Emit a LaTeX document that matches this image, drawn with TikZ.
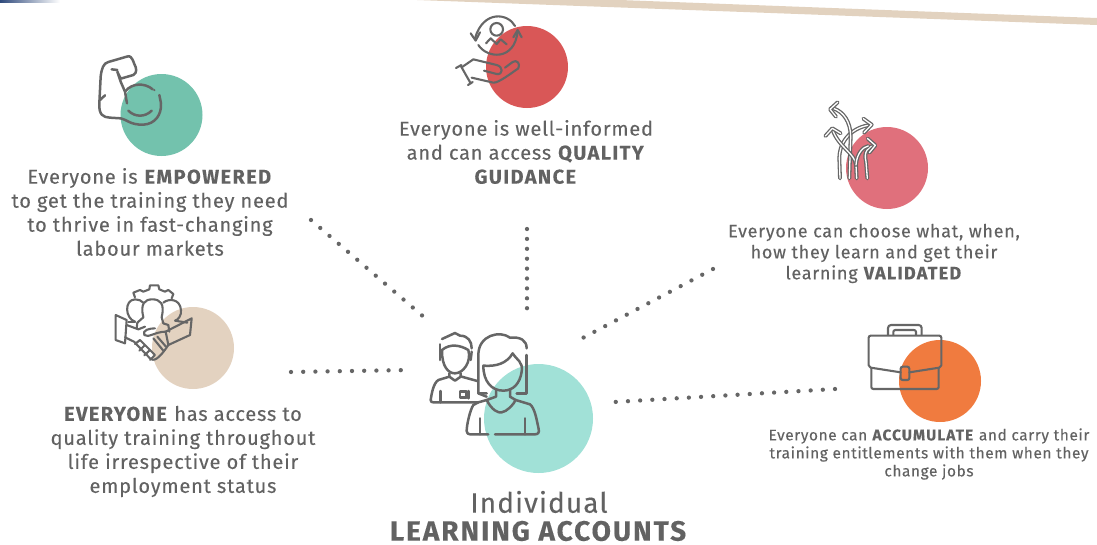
\documentclass[tikz,border=0pt]{standalone}
\usepackage{fontspec}
\setmainfont[LetterSpace=4,FakeBold=0.2]{Fira Sans}
\definecolor{txtgrey}{HTML}{626262}
\definecolor{icongrey}{HTML}{666666}
\definecolor{bandbeige}{HTML}{E2D2BF}
\definecolor{empgreen}{HTML}{73C2AD}
\definecolor{guidered}{HTML}{D95757}
\definecolor{valpink}{HTML}{E0707C}
\definecolor{evebeige}{HTML}{E3D2C0}
\definecolor{learnteal}{HTML}{A1E1D7}
\definecolor{accorange}{HTML}{F07B3F}
\definecolor{bandblue}{HTML}{2F4A7C}
\newcommand{\capsword}[1]{\textbf{\addfontfeature{LetterSpace=7}#1}}
\tikzset{
  blurb/.style={text=txtgrey,align=center,font=\fontsize{20}{24}\selectfont,inner sep=0pt},
  dots/.style={icongrey,line width=4.3pt,line cap=round,dash pattern=on 0pt off 12.2pt},
  icon/.style={icongrey,line width=2.1pt,line cap=round,line join=round},
  iconthick/.style={icongrey,line width=2.5pt,line cap=round,line join=round},
  zoomed/.style={x=0.33333pt,y=-0.33333pt}
}
\begin{document}
\begin{tikzpicture}[x=1pt,y=-1pt]
  \useasboundingbox (0,0) rectangle (1097,544);
  \fill[left color=bandblue,right color=white] (0,0) rectangle (60,2);
  \fill[bandbeige] (417,0) -- (620,0) -- (1097,18) -- (1097,25) -- cycle;

  \fill[empgreen] (161.5,115) circle (41);
  \fill[guidered] (527,67) circle (41);
  \fill[valpink] (887,168) circle (41);
  \fill[evebeige] (193,348) circle (41);
  \fill[learnteal] (538.5,418.5) circle (54.5);
  \fill[accorange] (940,381) circle (41);

  \node[blurb] (empowered) at (150,212) {Everyone is \capsword{EMPOWERED}\\to get the training they need\\to thrive in fast-changing\\labour markets};
  \node[blurb] (guidance) at (526,152) {Everyone is well-informed\\and can access \capsword{QUALITY}\\\capsword{GUIDANCE}};
  \node[blurb,font=\fontsize{18}{21}\selectfont] (validated) at (874,253.5) {Everyone can choose what, when,\\how they learn and get their\\learning \capsword{VALIDATED}};
  \node[blurb] (everyone) at (183,451.5) {\capsword{EVERYONE} has access to\\quality training throughout\\life irrespective of their\\employment status};
  \node[blurb,font=\fontsize{15.4}{18}\selectfont] (accumulate) at (929,454) {Everyone can \capsword{ACCUMULATE} and carry their\\training entitlements with them when they\\change jobs};
  \node[blurb,font=\fontsize{28}{28}\selectfont] (accounts) at (539,516) {Individual\\\capsword{LEARNING ACCOUNTS}};

  \coordinate (empEnd) at (311,220);
  \coordinate (empHub) at (425,318);
  \coordinate (guideEnd) at (527,229);
  \coordinate (guideHub) at (527,309);
  \coordinate (valEnd) at (713,269);
  \coordinate (valHub) at (577,341);
  \coordinate (eveEnd) at (291,372);
  \coordinate (eveHub) at (409,370);
  \coordinate (accEnd) at (835,389);
  \coordinate (accHub) at (614,402);
  \draw[dots] (empEnd) -- (empHub);
  \draw[dots,dash pattern=on 0pt off 9.9pt] (guideEnd) -- (guideHub);
  \draw[dots] (valEnd) -- (valHub);
  \draw[dots] (eveEnd) -- (eveHub);
  \draw[dots] (accEnd) -- (accHub);

  \begin{scope}[shift={(80,40)},zoomed]
    \draw[iconthick] (112,90) -- (95,88);
    \draw[iconthick] (160,105) -- (122,116) -- (112,95) -- (122,125) -- (135,155) -- (141,190);
    \draw[iconthick] (160,105) .. controls (172,98) and (170,85) .. (163,72) .. controls (155,50) and (150,46) .. (140,50) -- (85,66) .. controls (70,70) and (65,85) .. (62,110) -- (58,190) .. controls (56,225) and (70,232) .. (90,233) -- (122,235) .. controls (140,238) and (150,255) .. (190,254) .. controls (225,252) and (245,225) .. (243,190) -- (238,165);
    \draw[iconthick] (135,155) .. controls (155,128) and (195,128) .. (218,148);
    \fill[icongrey] (223,150) circle (3.5);
    \draw[iconthick] (145,212) .. controls (165,232) and (195,232) .. (215,212);
    \draw[iconthick] (60,180) -- (75,166);
  \end{scope}

  \begin{scope}[shift={(440,0)},zoomed]
    \draw[icon] (225,78) .. controls (205,40) and (130,28) .. (105,115);
    \draw[icon] (92,100) -- (107,122) -- (120,97);
    \draw[icon] (115,135) .. controls (140,175) and (225,185) .. (233,92);
    \draw[icon] (220,112) -- (233,90) -- (245,112);
    \draw[icon] (170,88) circle (19);
    \draw[icon] (138,130) -- (152,115) -- (170,132) -- (182,118) -- (200,133);
    \draw[icon] (48,204) -- (64,195);
    \draw[icon] (62,197) -- (92,250);
    \draw[icon] (84,255) -- (98,246);
    \draw[icon] (65,202) -- (100,178) -- (170,195) .. controls (190,200) and (190,225) .. (170,222) -- (132,212);
    \draw[icon] (95,233) -- (160,248) .. controls (175,250) and (220,215) .. (235,205) .. controls (242,190) and (230,178) .. (218,186) -- (195,203);
  \end{scope}

  \begin{scope}[shift={(800,90)},zoomed]
    \tikzset{arrowline/.style={icongrey,line width=1.3pt,double=white,double distance=1.3pt,line cap=round,line join=round}}
    \draw[arrowline] (120,265) -- (118,205) .. controls (118,150) and (160,110) .. (212,105);
    \draw[arrowline] (190,86) -- (215,104) -- (192,128);
    \draw[arrowline] (148,265) -- (152,140) .. controls (152,95) and (130,65) .. (100,55);
    \draw[arrowline] (113,37) -- (90,58) -- (108,80);
    \draw[arrowline] (170,265) -- (168,225) .. controls (165,190) and (115,170) .. (98,120);
    \draw[arrowline] (76,138) -- (97,115) -- (122,130);
    \draw[arrowline] (202,265) -- (198,215) .. controls (190,185) and (205,170) .. (224,166);
    \draw[arrowline] (203,146) -- (226,166) -- (208,188);
    \draw[arrowline] (168,225) .. controls (170,190) and (190,170) .. (205,168);
  \end{scope}

  \begin{scope}[shift={(100,280)},zoomed]
    \draw[icon] (47,105) -- (80,120) -- (75,190) -- (47,180) -- cycle;
    \draw[icon] (275,115) -- (270,165) -- (205,195) -- (197,155) -- cycle;
    \draw[icon] (80,135) -- (115,148) -- (135,140);
    \draw[icon] (133,165) .. controls (145,175) and (165,155) .. (197,155);
    \draw[icon] (133,165) .. controls (125,150) and (150,145) .. (165,145);
    \draw[icon] (75,172) -- (102,185) -- (150,235) .. controls (160,245) and (175,240) .. (205,195);
    \draw[icon] (105,192) -- (120,180) -- (135,195) -- (118,212);
    \draw[icon] (135,195) -- (150,210) -- (133,226);
    \draw[icon] (150,210) -- (165,225) -- (150,240);
    \draw[icon] (160,175) -- (190,212);
    \draw[icon] (172,170) -- (198,200);
    \draw[icon] (130,112) .. controls (120,70) and (135,58) .. (157,58) .. controls (180,58) and (195,70) .. (185,112) -- (190,130);
    \draw[icon] (130,112) -- (112,128) -- (110,145);
    \draw[icon] (190,130) -- (205,135) -- (208,155);
    \draw[icon] (105,125) .. controls (75,115) and (72,60) .. (105,58) .. controls (115,58) and (125,62) .. (130,68);
    \draw[icon] (105,125) -- (85,125);
    \draw[icon] (190,68) .. controls (205,55) and (240,55) .. (243,90) .. controls (245,105) and (235,120) .. (225,122) -- (262,128);
    \draw[icon] (105,52) -- (100,38) -- (120,30) -- (130,35) -- (148,28) -- (150,16) -- (175,16) -- (178,28) -- (195,35) -- (205,30) -- (220,42) -- (215,55);
  \end{scope}

  \begin{scope}[shift={(420,325)},zoomed]
    \draw[iconthick] (66,42) -- (105,24) -- (120,32) .. controls (145,32) and (155,50) .. (155,70);
    \draw[iconthick] (60,58) -- (60,105);
    \draw[iconthick] (155,80) -- (152,105);
    \draw[iconthick] (66,75) .. controls (90,55) and (120,60) .. (145,75) .. controls (155,110) and (130,145) .. (105,145) .. controls (85,145) and (65,125) .. (66,75);
    \draw[iconthick] (88,145) -- (88,155) -- (105,167) -- (122,155) -- (122,145);
    \draw[iconthick] (172,168) -- (125,155);
    \draw[iconthick] (88,155) -- (55,165) .. controls (40,175) and (35,205) .. (32,225) .. controls (32,230) and (35,232) .. (40,232) -- (175,232);
    \draw[iconthick] (62,198) -- (62,232);
    \draw[iconthick] (120,200) rectangle (140,218);
    \draw[iconthick] (146,198) -- (146,220);
    \draw[iconthick] (320,70) .. controls (320,45) and (300,35) .. (270,38) .. controls (240,15) and (175,30) .. (175,90) -- (175,205) -- (200,205);
    \draw[iconthick] (320,90) -- (320,205) -- (290,205);
    \draw[iconthick] (190,122) .. controls (230,125) and (260,115) .. (278,85) .. controls (290,105) and (310,110) .. (305,140) .. controls (300,175) and (280,197) .. (250,197) .. controls (215,197) and (190,170) .. (190,122) -- cycle;
    \draw[iconthick] (228,192) -- (228,215) -- (200,225) .. controls (215,255) and (235,265) .. (245,262) .. controls (260,260) and (280,240) .. (287,225) -- (270,215) -- (270,192);
    \draw[iconthick] (200,225) -- (175,232) -- (160,240) .. controls (150,255) and (140,300) .. (140,318) .. controls (140,325) and (145,328) .. (150,328) -- (205,328);
    \draw[iconthick] (225,328) -- (345,328) .. controls (355,328) and (358,322) .. (356,312) .. controls (350,285) and (345,250) .. (330,238) -- (287,225);
    \draw[iconthick] (180,280) -- (180,328);
    \draw[iconthick] (315,280) -- (315,328);
    \draw[iconthick] (175,205) -- (200,215);
  \end{scope}

  \begin{scope}[shift={(860,315)},zoomed]
    \draw[icon,rounded corners=2pt] (122,172) -- (26,157) -- (26,62) -- (244,62) -- (244,157) -- (148,172);
    \draw[icon,rounded corners=2pt] (34,160) -- (34,222) -- (236,222) -- (236,160);
    \draw[icon,rounded corners=2pt] (122,155) rectangle (148,195);
    \draw[icon,rounded corners=3pt] (84,60) -- (84,30) -- (185,30) -- (185,60);
    \draw[icon,rounded corners=2pt] (100,60) -- (100,45) -- (168,45) -- (168,60);
  \end{scope}
\end{tikzpicture}
\end{document}
